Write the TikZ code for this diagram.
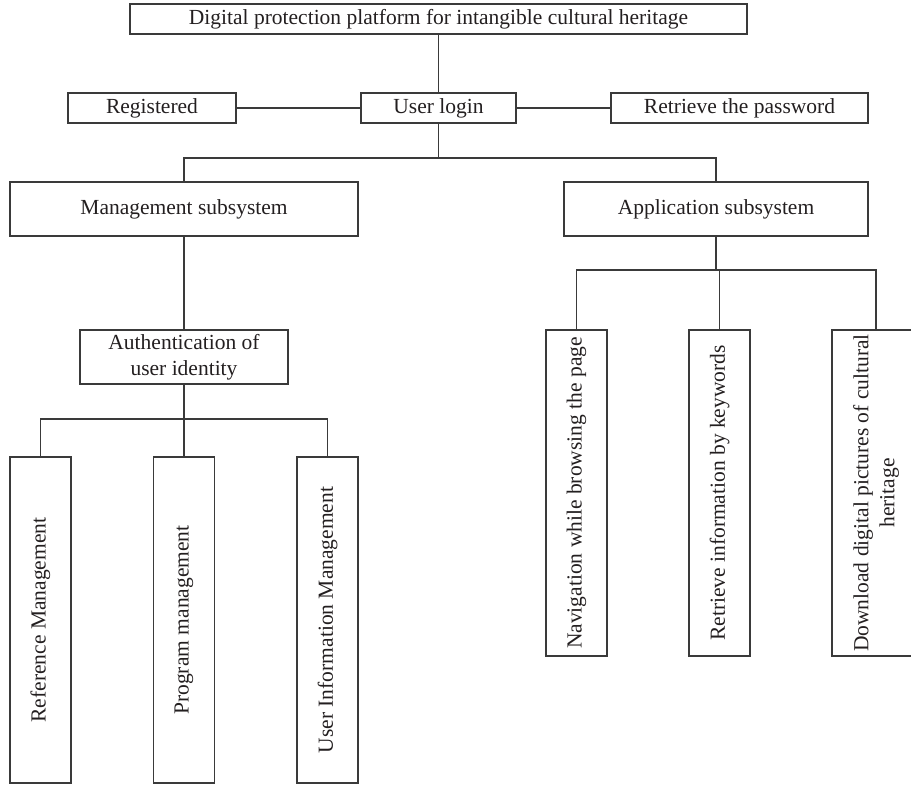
\documentclass[tikz,border=0pt]{standalone}
\usepackage{fontspec}
\setmainfont{Liberation Serif}
\definecolor{linec}{HTML}{3A3A3A}
\definecolor{txtc}{HTML}{231F20}
\begin{document}
\begin{tikzpicture}[x=1pt,y=-1pt,
  box/.style={draw=linec, line width=1.4pt, inner sep=0pt, align=center,
    text=txtc, font=\fontsize{21.5}{26}\selectfont},
  wire/.style={draw=linec, line width=1.1pt},
  vbox/.style={box, rotate=90, minimum width=326pt}]
\useasboundingbox (0,0) rectangle (911,786);
\clip (0,0) rectangle (911,786);
\node[box, minimum width=617pt, minimum height=30pt] (top) at (438.5,19) {Digital protection platform for intangible cultural heritage};
\node[box, minimum width=168pt, minimum height=30pt] (reg) at (152,108) {Registered};
\node[box, minimum width=155pt, minimum height=30pt] (login) at (438.5,108) {User login};
\node[box, minimum width=257pt, minimum height=30pt] (retr) at (739.5,108) {Retrieve the password};
\node[box, minimum width=348pt, minimum height=54pt] (mgmt) at (184,209) {Management subsystem};
\node[box, minimum width=304pt, minimum height=54pt] (app) at (716,209) {Application subsystem};
\node[box, minimum width=208pt, minimum height=54pt] (auth) at (184,357) {Authentication of\\user identity};
\node[vbox, minimum height=61pt] (L1) at (40.5,620) {Reference Management};
\node[vbox, minimum height=61pt] (L2) at (184,620) {Program management};
\node[vbox, minimum height=61pt] (L3) at (327.5,620) {User Information Management};
\node[vbox, minimum height=61pt] (R1) at (576.5,493) {Navigation while browsing the page};
\node[vbox, minimum height=61pt] (R2) at (719.5,493) {Retrieve information by keywords};
\node[vbox, minimum height=88pt] (R3) at (876,493) {Download digital pictures of cultural\\heritage};
\coordinate (b1) at (438.5,158);
\coordinate (b2) at (184,419);
\coordinate (b3) at (716,270);
\draw[wire] (top) -- (login);
\draw[wire] (reg) -- (login);
\draw[wire] (login) -- (retr);
\draw[wire] (login) -- (b1);
\draw[wire] (mgmt) |- (b1) -| (app);
\draw[wire] (mgmt) -- (auth);
\draw[wire] (auth) -- (L2);
\draw[wire] (L1) |- (b2) -| (L3);
\draw[wire] (app) -- (b3);
\draw[wire] (R1) |- (b3) -| (R3);
\draw[wire] (R2) -- (R2 |- b3);
\end{tikzpicture}
\end{document}
